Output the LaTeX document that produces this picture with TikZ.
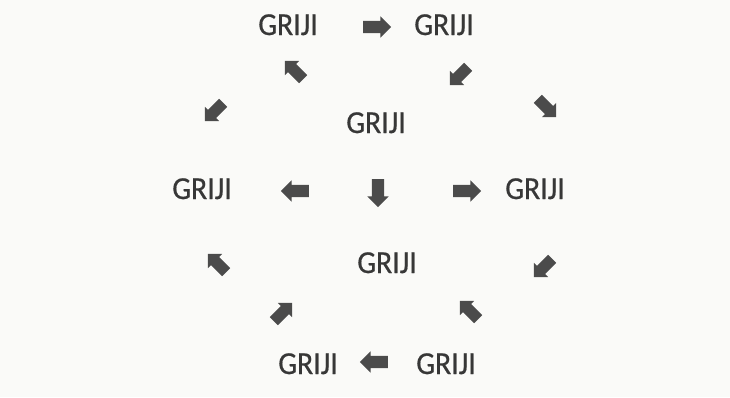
\documentclass[tikz,border=0pt]{standalone}
\usepackage{fontspec}
\setmainfont{Carlito}[FakeStretch=0.93,FakeBold=0.6]
\usepackage{tikz}
\usetikzlibrary{shapes.arrows}
\usepackage{xcolor}
\definecolor{paperwhite}{RGB}{250,250,248}
\definecolor{wordgray}{RGB}{55,55,55}
\definecolor{arrowgray}{RGB}{75,75,75}

\begin{document}
\begin{tikzpicture}[x=1pt,y=-1pt,
  word/.style={anchor=base, text=wordgray, inner sep=0pt, font=\fontsize{32}{32}\selectfont},
  fatarrow/.style={single arrow, fill=arrowgray, draw=none, inner sep=6pt, single arrow head extend=4.5pt, minimum height=28pt},
  slantarrow/.style={fatarrow, inner sep=5.5pt, single arrow head extend=4.5pt, minimum height=26pt}]
\fill[paperwhite] (0,0) rectangle (730,397);
\useasboundingbox (0,0) rectangle (730,397);

% words
\node[word] (w1) at (288,35) {GRIJI};
\node[word] (w2) at (444,35) {GRIJI};
\node[word] (w3) at (376,133) {GRIJI};
\node[word] (w4) at (202,199) {GRIJI};
\node[word] (w5) at (535,199) {GRIJI};
\node[word] (w6) at (387,273) {GRIJI};
\node[word] (w7) at (308,374) {GRIJI};
\node[word] (w8) at (446,374) {GRIJI};

% arrows
\node[fatarrow] (p1) at (374,27) {};
\node[slantarrow, rotate=135] (p2) at (296,72) {};
\node[slantarrow, rotate=225] (p3) at (461,74) {};
\node[slantarrow, rotate=225] (p4) at (216,110) {};
\node[slantarrow, rotate=-45] (p5) at (545,106) {};
\node[fatarrow, rotate=180] (p6) at (298,191) {};
\node[fatarrow, rotate=-90] (p7) at (378,190) {};
\node[fatarrow] (p8) at (464,191) {};
\node[slantarrow, rotate=135] (p9) at (219,265) {};
\node[slantarrow, rotate=225] (p10) at (545,266) {};
\node[slantarrow, rotate=45] (p11) at (281,314) {};
\node[slantarrow, rotate=135] (p12) at (471,312) {};
\node[fatarrow, rotate=180] (p13) at (377,362) {};
\end{tikzpicture}
\end{document}
